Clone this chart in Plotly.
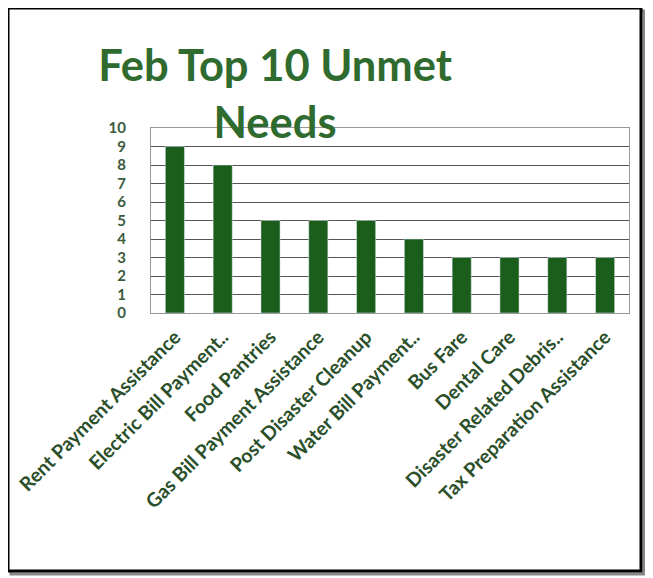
import plotly.graph_objects as go

categories = ["Rent Payment Assistance", "Electric Bill Payment..", "Food Pantries",
              "Gas Bill Payment Assistance", "Post Disaster Cleanup", "Water Bill Payment..",
              "Bus Fare", "Dental Care", "Disaster Related Debris..", "Tax Preparation Assistance"]
values = [9, 8, 5, 5, 5, 4, 3, 3, 3, 3]
y_ticks = list(range(0, 11))

BAR = "#1b5e1b"
TXT = "#2f6a2f"

fig = go.Figure(go.Bar(x=categories, y=values, marker_color=BAR, width=0.4))

# page body offset of 8px is accounted for in these figure-pixel values
L, R, T, B = 143, 621, 120, 305
W, H = R - L, B - T
def px(x): return (x - 8 - L) / W
def py(y): return (B - (y - 8)) / H

fig.update_layout(
    width=653, height=578,
    margin=dict(l=L, r=653 - R, t=T, b=578 - B, autoexpand=False),
    paper_bgcolor="white", plot_bgcolor="white",
    showlegend=False,
    title=dict(text="Feb Top 10 Unmet<br>Needs", x=0.409, xanchor="center", y=0.873, yanchor="top",
               font=dict(family="Lato", size=43.5, color=TXT, weight="bold")),
    xaxis=dict(tickangle=-45, tickfont=dict(family="Lato", size=19.5, color="#2a4f2a", weight="bold"),
               showgrid=False, showline=True, linecolor="#999", linewidth=1, mirror=True,
               ticks="", ticklabelstandoff=4, automargin=False),
    yaxis=dict(range=[0, 10], tickvals=y_ticks, showgrid=True, gridcolor="#555", gridwidth=1,
               tickfont=dict(family="Lato", size=15, color="#3c5a3c", weight="bold"),
               showline=True, linecolor="#999", linewidth=1, mirror=True, zeroline=False,
               ticks="", ticklabelstandoff=21, automargin=False),
    shapes=[
        dict(type="rect", xref="paper", yref="paper", x0=px(11), x1=px(644), y0=py(574), y1=py(11),
             line=dict(color="#888", width=3), layer="below"),
        dict(type="rect", xref="paper", yref="paper", x0=px(8), x1=px(641), y0=py(571), y1=py(8),
             line=dict(color="black", width=3), fillcolor="white", layer="below"),
    ],
)

fig.write_html("out.html")
